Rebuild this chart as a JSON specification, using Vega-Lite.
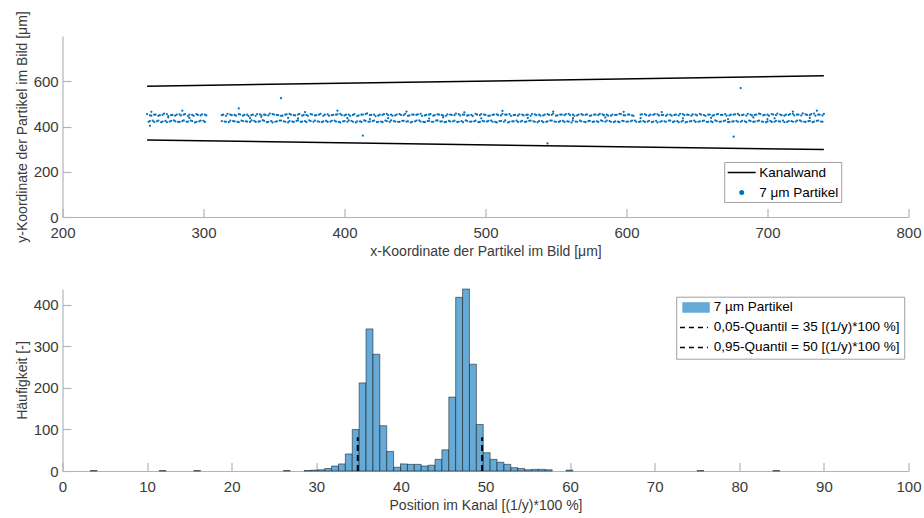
{
"$schema":"https://vega.github.io/schema/vega-lite/v6.json",
"background":"white",
"padding":{"left":14.5,"top":10,"right":5,"bottom":5},
"spacing":30,
"resolve":{"scale":{"color":"independent"},"legend":{"color":"independent"}},
"config":{
"font":"Liberation Sans",
"view":{"stroke":null},
"axis":{"grid":false,"domainColor":"#b4b4b4","domainWidth":1.2,"tickColor":"#b4b4b4","tickWidth":1.2,"tickSize":-8.5,"labelColor":"#3a3a3a","labelFontSize":15,"titleFontSize":14,"titleColor":"#3a3a3a","titleFontWeight":"normal","labelFlush":false,"labelOverlap":false,"titlePadding":4},
"axisX":{"labelPadding":16.5},
"axisY":{"labelPadding":12.8}
},
"vconcat":[
{
"width":846,"height":181,
"layer":[
{"data":{"values":[
{"x":260,"y":578,"wand":"oben"},{"x":740,"y":624,"wand":"oben"},
{"x":260,"y":340,"wand":"unten"},{"x":740,"y":298,"wand":"unten"}]},
"mark":{"type":"line","strokeWidth":1.5},
"encoding":{
"x":{"field":"x","type":"quantitative","scale":{"domain":[200,800],"nice":false},"axis":{"values":[200,300,400,500,600,700,800],"title":"x-Koordinate der Partikel im Bild [μm]"}},
"y":{"field":"y","type":"quantitative","scale":{"domain":[0,800],"nice":false},"axis":{"values":[0,200,400,600],"title":"y-Koordinate der Partikel im Bild [μm]"}},
"detail":{"field":"wand"},
"color":{"datum":"Kanalwand","scale":{"domain":["Kanalwand","7 μm Partikel"],"range":["#000000","#0072BD"]},
"legend":{"orient":"none","legendX":661.7,"legendY":126,"title":null,"labelFontSize":13.5,"labelColor":"#000000","symbolSize":196,"labelOffset":16.5,"rowPadding":5,"padding":2.5,"strokeColor":"#a0a0a0","fillColor":"white",
"encode":{"symbols":{"update":{
"shape":{"signal":"datum.value === 'Kanalwand' ? 'M-1,0H3' : 'M1.25,0A0.25,0.25,0,1,1,0.75,0A0.25,0.25,0,1,1,1.25,0Z'"},
"fill":{"signal":"datum.value === 'Kanalwand' ? 'transparent' : '#0072BD'"},
"stroke":{"signal":"datum.value === 'Kanalwand' ? '#000000' : 'transparent'"},
"strokeWidth":{"value":1.5},"opacity":{"value":1}}}}}}
}},
{"data":{"values":[
{"x":260,"y":455},{"x":263,"y":448},{"x":266,"y":452},{"x":269,"y":450},{"x":272,"y":457},{"x":275,"y":446},{"x":278,"y":451},{"x":281,"y":453},{"x":284,"y":449},{"x":287,"y":455},{"x":290,"y":452},{"x":293,"y":447},{"x":296,"y":451},{"x":299,"y":454},{"x":302,"y":449},
{"x":314,"y":452},{"x":317,"y":456},{"x":320,"y":450},{"x":323,"y":448},{"x":326,"y":453},{"x":329,"y":451},{"x":332,"y":446},{"x":335,"y":452},{"x":338,"y":455},{"x":341,"y":449},{"x":344,"y":451},{"x":347,"y":457},{"x":350,"y":453},{"x":353,"y":450},{"x":356,"y":448},{"x":359,"y":454},{"x":362,"y":452},{"x":365,"y":449},{"x":368,"y":455},{"x":371,"y":451},{"x":374,"y":447},{"x":377,"y":453},{"x":380,"y":450},{"x":383,"y":456},{"x":386,"y":452},{"x":389,"y":448},{"x":392,"y":451},{"x":395,"y":454},{"x":398,"y":450},
{"x":401,"y":452},{"x":404,"y":447},{"x":407,"y":455},{"x":410,"y":449},{"x":413,"y":453},{"x":416,"y":458},{"x":419,"y":451},{"x":422,"y":446},{"x":425,"y":452},{"x":428,"y":455},{"x":431,"y":450},{"x":434,"y":448},{"x":437,"y":453},{"x":440,"y":451},{"x":443,"y":456},{"x":446,"y":449},{"x":449,"y":452},{"x":452,"y":454},{"x":455,"y":447},{"x":458,"y":451},{"x":461,"y":455},{"x":464,"y":450},{"x":467,"y":452},{"x":470,"y":448},{"x":473,"y":454},{"x":476,"y":451},{"x":479,"y":457},{"x":482,"y":449},{"x":485,"y":453},{"x":488,"y":450},{"x":491,"y":446},{"x":494,"y":452},{"x":497,"y":455},
{"x":500,"y":451},{"x":503,"y":448},{"x":506,"y":453},{"x":509,"y":450},{"x":512,"y":456},{"x":515,"y":452},{"x":518,"y":447},{"x":521,"y":451},{"x":524,"y":454},{"x":527,"y":449},{"x":530,"y":452},{"x":533,"y":455},{"x":536,"y":450},{"x":539,"y":448},{"x":542,"y":453},{"x":545,"y":451},{"x":548,"y":457},{"x":551,"y":449},{"x":554,"y":452},{"x":557,"y":455},{"x":560,"y":450},{"x":563,"y":447},{"x":566,"y":453},{"x":569,"y":451},{"x":572,"y":454},{"x":575,"y":449},{"x":578,"y":452},{"x":581,"y":456},{"x":584,"y":450},{"x":587,"y":448},{"x":590,"y":453},{"x":593,"y":451},{"x":596,"y":455},{"x":599,"y":449},
{"x":602,"y":452},{"x":605,"y":447},{"x":611,"y":454},{"x":614,"y":450},{"x":617,"y":452},{"x":620,"y":455},{"x":623,"y":449},{"x":626,"y":451},{"x":629,"y":453},{"x":632,"y":448},{"x":635,"y":452},{"x":638,"y":456},{"x":641,"y":450},{"x":644,"y":451},{"x":647,"y":454},{"x":650,"y":449},{"x":653,"y":452},{"x":656,"y":447},{"x":659,"y":453},{"x":662,"y":450},{"x":665,"y":455},{"x":668,"y":451},{"x":671,"y":448},{"x":674,"y":452},{"x":677,"y":454},{"x":680,"y":450},{"x":683,"y":453},{"x":686,"y":456},{"x":689,"y":449},{"x":692,"y":452},{"x":695,"y":455},{"x":698,"y":451},
{"x":701,"y":448},{"x":704,"y":453},{"x":707,"y":457},{"x":710,"y":450},{"x":713,"y":452},{"x":716,"y":455},{"x":719,"y":449},{"x":722,"y":453},{"x":725,"y":458},{"x":728,"y":451},{"x":731,"y":455},{"x":734,"y":448},{"x":737,"y":453},{"x":740,"y":456},
{"x":262,"y":449},{"x":265,"y":453},{"x":268,"y":447},{"x":271,"y":451},{"x":274,"y":455},{"x":277,"y":450},{"x":280,"y":448},{"x":283,"y":454},{"x":286,"y":452},{"x":289,"y":446},{"x":292,"y":451},{"x":295,"y":455},{"x":298,"y":449},{"x":301,"y":453},
{"x":313,"y":450},{"x":316,"y":447},{"x":319,"y":453},{"x":322,"y":451},{"x":325,"y":455},{"x":328,"y":448},{"x":331,"y":452},{"x":334,"y":450},{"x":337,"y":447},{"x":340,"y":454},{"x":343,"y":452},{"x":346,"y":449},{"x":349,"y":455},{"x":352,"y":451},{"x":355,"y":447},{"x":358,"y":452},{"x":361,"y":456},{"x":364,"y":450},{"x":367,"y":453},{"x":370,"y":448},{"x":373,"y":451},{"x":376,"y":455},{"x":379,"y":449},{"x":382,"y":452},{"x":385,"y":447},{"x":388,"y":454},{"x":391,"y":450},{"x":394,"y":452},{"x":397,"y":456},
{"x":400,"y":449},{"x":403,"y":453},{"x":406,"y":451},{"x":409,"y":446},{"x":412,"y":452},{"x":415,"y":455},{"x":418,"y":450},{"x":421,"y":453},{"x":424,"y":448},{"x":427,"y":451},{"x":430,"y":456},{"x":433,"y":452},{"x":436,"y":449},{"x":439,"y":455},{"x":442,"y":450},{"x":445,"y":447},{"x":448,"y":453},{"x":451,"y":451},{"x":454,"y":456},{"x":457,"y":449},{"x":460,"y":452},{"x":463,"y":448},{"x":466,"y":454},{"x":469,"y":451},{"x":472,"y":447},{"x":475,"y":453},{"x":478,"y":450},{"x":481,"y":455},{"x":484,"y":452},{"x":487,"y":448},{"x":490,"y":451},{"x":493,"y":456},{"x":496,"y":450},{"x":499,"y":453},
{"x":502,"y":447},{"x":505,"y":451},{"x":508,"y":454},{"x":511,"y":449},{"x":514,"y":452},{"x":517,"y":455},{"x":520,"y":450},{"x":523,"y":448},{"x":526,"y":453},{"x":529,"y":451},{"x":532,"y":447},{"x":535,"y":454},{"x":538,"y":452},{"x":541,"y":449},{"x":544,"y":455},{"x":547,"y":451},{"x":550,"y":448},{"x":553,"y":453},{"x":556,"y":450},{"x":559,"y":456},{"x":562,"y":452},{"x":565,"y":449},{"x":568,"y":455},{"x":571,"y":451},{"x":574,"y":447},{"x":577,"y":453},{"x":580,"y":450},{"x":583,"y":454},{"x":586,"y":452},{"x":589,"y":448},{"x":592,"y":451},{"x":595,"y":456},{"x":598,"y":450},
{"x":601,"y":453},{"x":604,"y":449},{"x":610,"y":452},{"x":613,"y":455},{"x":616,"y":448},{"x":619,"y":451},{"x":622,"y":454},{"x":625,"y":450},{"x":628,"y":447},{"x":631,"y":453},{"x":634,"y":451},{"x":637,"y":449},{"x":640,"y":455},{"x":643,"y":452},{"x":646,"y":448},{"x":649,"y":453},{"x":652,"y":456},{"x":655,"y":450},{"x":658,"y":452},{"x":661,"y":448},{"x":664,"y":454},{"x":667,"y":451},{"x":670,"y":455},{"x":673,"y":449},{"x":676,"y":452},{"x":679,"y":456},{"x":682,"y":450},{"x":685,"y":448},{"x":688,"y":453},{"x":691,"y":451},{"x":694,"y":457},{"x":697,"y":449},
{"x":700,"y":452},{"x":703,"y":455},{"x":706,"y":450},{"x":709,"y":453},{"x":712,"y":448},{"x":715,"y":451},{"x":718,"y":456},{"x":721,"y":452},{"x":724,"y":449},{"x":727,"y":454},{"x":730,"y":450},{"x":733,"y":457},{"x":736,"y":452},{"x":739,"y":449},
{"x":261,"y":421},{"x":264,"y":426},{"x":267,"y":423},{"x":270,"y":419},{"x":273,"y":425},{"x":276,"y":422},{"x":279,"y":427},{"x":282,"y":420},{"x":285,"y":424},{"x":288,"y":421},{"x":291,"y":426},{"x":294,"y":418},{"x":297,"y":423},{"x":300,"y":425},
{"x":315,"y":422},{"x":318,"y":419},{"x":321,"y":424},{"x":324,"y":421},{"x":327,"y":426},{"x":330,"y":423},{"x":333,"y":420},{"x":336,"y":425},{"x":339,"y":422},{"x":342,"y":428},{"x":345,"y":419},{"x":348,"y":424},{"x":351,"y":421},{"x":354,"y":426},{"x":357,"y":423},{"x":360,"y":418},{"x":363,"y":422},{"x":366,"y":425},{"x":369,"y":420},{"x":372,"y":424},{"x":375,"y":427},{"x":378,"y":421},{"x":381,"y":423},{"x":384,"y":419},{"x":387,"y":425},{"x":390,"y":422},{"x":393,"y":426},{"x":396,"y":420},{"x":399,"y":423},
{"x":402,"y":421},{"x":405,"y":425},{"x":408,"y":418},{"x":411,"y":423},{"x":414,"y":427},{"x":417,"y":421},{"x":420,"y":424},{"x":423,"y":419},{"x":426,"y":422},{"x":429,"y":426},{"x":432,"y":420},{"x":435,"y":424},{"x":438,"y":421},{"x":441,"y":425},{"x":444,"y":422},{"x":447,"y":418},{"x":450,"y":423},{"x":453,"y":427},{"x":456,"y":420},{"x":459,"y":424},{"x":462,"y":421},{"x":465,"y":426},{"x":468,"y":422},{"x":471,"y":419},{"x":474,"y":425},{"x":477,"y":423},{"x":480,"y":420},{"x":483,"y":424},{"x":486,"y":427},{"x":489,"y":421},{"x":492,"y":423},{"x":495,"y":419},{"x":498,"y":425},
{"x":501,"y":422},{"x":504,"y":426},{"x":507,"y":420},{"x":510,"y":424},{"x":513,"y":421},{"x":516,"y":418},{"x":519,"y":423},{"x":522,"y":426},{"x":525,"y":422},{"x":528,"y":420},{"x":531,"y":425},{"x":534,"y":423},{"x":537,"y":419},{"x":540,"y":424},{"x":543,"y":421},{"x":546,"y":426},{"x":549,"y":422},{"x":552,"y":420},{"x":555,"y":425},{"x":558,"y":423},{"x":561,"y":418},{"x":564,"y":422},{"x":567,"y":426},{"x":570,"y":421},{"x":573,"y":424},{"x":576,"y":420},{"x":579,"y":423},{"x":582,"y":427},{"x":585,"y":421},{"x":588,"y":424},{"x":591,"y":419},{"x":594,"y":422},{"x":597,"y":425},
{"x":600,"y":421},{"x":603,"y":423},{"x":606,"y":426},{"x":609,"y":420},{"x":612,"y":424},{"x":615,"y":422},{"x":618,"y":419},{"x":621,"y":425},{"x":624,"y":421},{"x":627,"y":423},{"x":630,"y":426},{"x":633,"y":420},{"x":636,"y":424},{"x":639,"y":422},{"x":642,"y":418},{"x":645,"y":423},{"x":648,"y":426},{"x":651,"y":421},{"x":654,"y":424},{"x":657,"y":420},{"x":660,"y":423},{"x":663,"y":427},{"x":666,"y":421},{"x":669,"y":424},{"x":672,"y":419},{"x":675,"y":422},{"x":678,"y":425},{"x":681,"y":421},{"x":684,"y":423},{"x":687,"y":426},{"x":690,"y":420},{"x":693,"y":424},{"x":696,"y":422},{"x":699,"y":419},
{"x":702,"y":425},{"x":705,"y":421},{"x":708,"y":423},{"x":711,"y":426},{"x":714,"y":420},{"x":717,"y":424},{"x":720,"y":422},{"x":723,"y":427},{"x":726,"y":421},{"x":729,"y":424},{"x":732,"y":419},{"x":735,"y":425},{"x":738,"y":422},
{"x":262,"y":424},{"x":265,"y":420},{"x":268,"y":426},{"x":271,"y":422},{"x":274,"y":419},{"x":277,"y":425},{"x":280,"y":423},{"x":283,"y":420},{"x":286,"y":427},{"x":289,"y":422},{"x":292,"y":424},{"x":295,"y":421},{"x":298,"y":426},{"x":301,"y":420},
{"x":313,"y":424},{"x":316,"y":421},{"x":319,"y":426},{"x":322,"y":423},{"x":325,"y":419},{"x":328,"y":424},{"x":331,"y":422},{"x":334,"y":427},{"x":337,"y":420},{"x":340,"y":423},{"x":343,"y":425},{"x":346,"y":421},{"x":349,"y":418},{"x":352,"y":423},{"x":355,"y":426},{"x":358,"y":421},{"x":361,"y":424},{"x":364,"y":420},{"x":367,"y":427},{"x":370,"y":422},{"x":373,"y":419},{"x":376,"y":424},{"x":379,"y":426},{"x":382,"y":421},{"x":385,"y":423},{"x":388,"y":420},{"x":391,"y":425},{"x":394,"y":422},{"x":397,"y":418},
{"x":400,"y":424},{"x":403,"y":427},{"x":406,"y":421},{"x":409,"y":423},{"x":412,"y":420},{"x":415,"y":425},{"x":418,"y":422},{"x":421,"y":426},{"x":424,"y":421},{"x":427,"y":419},{"x":430,"y":424},{"x":433,"y":427},{"x":436,"y":422},{"x":439,"y":420},{"x":442,"y":425},{"x":445,"y":423},{"x":448,"y":421},{"x":451,"y":426},{"x":454,"y":422},{"x":457,"y":419},{"x":460,"y":424},{"x":463,"y":421},{"x":466,"y":427},{"x":469,"y":423},{"x":472,"y":420},{"x":475,"y":422},{"x":478,"y":426},{"x":481,"y":421},{"x":484,"y":419},{"x":487,"y":424},{"x":490,"y":422},{"x":493,"y":426},{"x":496,"y":420},{"x":499,"y":423},
{"x":502,"y":425},{"x":505,"y":421},{"x":508,"y":418},{"x":511,"y":424},{"x":514,"y":427},{"x":517,"y":421},{"x":520,"y":423},{"x":523,"y":420},{"x":526,"y":425},{"x":529,"y":422},{"x":532,"y":426},{"x":535,"y":421},{"x":538,"y":424},{"x":541,"y":419},{"x":544,"y":423},{"x":547,"y":426},{"x":550,"y":421},{"x":553,"y":424},{"x":556,"y":420},{"x":559,"y":422},{"x":562,"y":427},{"x":565,"y":421},{"x":568,"y":423},{"x":571,"y":419},{"x":574,"y":425},{"x":577,"y":422},{"x":580,"y":420},{"x":583,"y":424},{"x":586,"y":426},{"x":589,"y":421},{"x":592,"y":423},{"x":595,"y":419},{"x":598,"y":424},
{"x":601,"y":422},{"x":604,"y":426},{"x":607,"y":421},{"x":610,"y":423},{"x":613,"y":420},{"x":616,"y":425},{"x":619,"y":422},{"x":622,"y":418},{"x":625,"y":424},{"x":628,"y":421},{"x":631,"y":426},{"x":634,"y":423},{"x":637,"y":419},{"x":640,"y":425},{"x":643,"y":421},{"x":646,"y":424},{"x":649,"y":420},{"x":652,"y":423},{"x":655,"y":426},{"x":658,"y":421},{"x":661,"y":419},{"x":664,"y":424},{"x":667,"y":422},{"x":670,"y":426},{"x":673,"y":420},{"x":676,"y":423},{"x":679,"y":421},{"x":682,"y":425},{"x":685,"y":419},{"x":688,"y":424},{"x":691,"y":422},{"x":694,"y":426},{"x":697,"y":421},
{"x":700,"y":423},{"x":703,"y":420},{"x":706,"y":425},{"x":709,"y":422},{"x":712,"y":419},{"x":715,"y":424},{"x":718,"y":421},{"x":721,"y":426},{"x":724,"y":423},{"x":727,"y":420},{"x":730,"y":424},{"x":733,"y":422},{"x":736,"y":426},{"x":739,"y":421},
{"x":263,"y":465},{"x":262,"y":403},{"x":275,"y":440},{"x":285,"y":470},{"x":290,"y":438},{"x":325,"y":480},{"x":333,"y":437},{"x":341,"y":442},{"x":355,"y":525},{"x":360,"y":438},{"x":367,"y":436},{"x":372,"y":464},{"x":395,"y":470},{"x":402,"y":437},{"x":413,"y":360},{"x":418,"y":433},{"x":431,"y":437},{"x":444,"y":466},{"x":460,"y":435},{"x":470,"y":440},{"x":485,"y":463},{"x":497,"y":436},{"x":512,"y":469},{"x":530,"y":438},{"x":544,"y":325},{"x":548,"y":466},{"x":562,"y":437},{"x":585,"y":440},{"x":598,"y":465},{"x":610,"y":437},{"x":625,"y":464},{"x":640,"y":436},{"x":660,"y":438},{"x":676,"y":355},{"x":681,"y":570},{"x":690,"y":440},{"x":705,"y":436},{"x":718,"y":466},{"x":730,"y":438},{"x":735,"y":470},{"x":672,"y":433},{"x":700,"y":433}
]},
"mark":{"type":"point","filled":true,"size":5,"opacity":1},
"encoding":{
"x":{"field":"x","type":"quantitative"},
"y":{"field":"y","type":"quantitative"},
"color":{"datum":"7 μm Partikel"}
}}
]
},
{
"width":846,"height":182,
"layer":[
{"data":{"values":[
{"x0":3.28,"x1":4.095,"n":1},{"x0":11.43,"x1":12.245,"n":1},{"x0":15.505,"x1":16.32,"n":1},{"x0":26.1,"x1":26.915,"n":1},{"x0":28.545,"x1":29.36,"n":1},{"x0":29.36,"x1":30.175,"n":2},{"x0":30.175,"x1":30.99,"n":3},{"x0":30.99,"x1":31.805,"n":6},{"x0":31.805,"x1":32.62,"n":12},{"x0":32.62,"x1":33.435,"n":17},{"x0":33.435,"x1":34.25,"n":41},{"x0":34.25,"x1":35.065,"n":100},{"x0":35.065,"x1":35.88,"n":212},{"x0":35.88,"x1":36.695,"n":342},{"x0":36.695,"x1":37.51,"n":281},{"x0":37.51,"x1":38.325,"n":109},{"x0":38.325,"x1":39.14,"n":47},{"x0":39.14,"x1":39.955,"n":9},{"x0":39.955,"x1":40.77,"n":17},{"x0":40.77,"x1":41.585,"n":16},{"x0":41.585,"x1":42.4,"n":16},{"x0":42.4,"x1":43.215,"n":12},{"x0":43.215,"x1":44.03,"n":14},{"x0":44.03,"x1":44.845,"n":28},{"x0":44.845,"x1":45.66,"n":51},{"x0":45.66,"x1":46.475,"n":178},{"x0":46.475,"x1":47.29,"n":418},{"x0":47.29,"x1":48.105,"n":438},{"x0":48.105,"x1":48.92,"n":257},{"x0":48.92,"x1":49.735,"n":112},{"x0":49.735,"x1":50.55,"n":44},{"x0":50.55,"x1":51.365,"n":28},{"x0":51.365,"x1":52.18,"n":21},{"x0":52.18,"x1":52.995,"n":16},{"x0":52.995,"x1":53.81,"n":8},{"x0":53.81,"x1":54.625,"n":6},{"x0":54.625,"x1":55.44,"n":3},{"x0":55.44,"x1":56.255,"n":4},{"x0":56.255,"x1":57.07,"n":4},{"x0":57.07,"x1":57.885,"n":3},{"x0":59.515,"x1":60.33,"n":2},{"x0":75.0,"x1":75.815,"n":1},{"x0":83.965,"x1":84.78,"n":1}
]},
"mark":{"type":"bar","stroke":"#000000","strokeOpacity":0.6,"strokeWidth":0.8},
"encoding":{
"x":{"field":"x0","type":"quantitative","scale":{"domain":[0,100],"nice":false},"axis":{"values":[0,10,20,30,40,50,60,70,80,90,100],"title":"Position im Kanal [(1/y)*100 %]"}},
"x2":{"field":"x1"},
"y":{"field":"n","type":"quantitative","scale":{"domain":[0,438],"nice":false},"axis":{"values":[0,100,200,300,400],"title":"Häufigkeit [-]"}},
"y2":{"datum":0},
"color":{"datum":"7 µm Partikel","scale":{"domain":["7 µm Partikel","0,05-Quantil = 35 [(1/y)*100 %]","0,95-Quantil = 50 [(1/y)*100 %]"],"range":["#66AAD7","#000000","#000000"]},
"legend":{"orient":"none","legendX":613.7,"legendY":7.7,"title":null,"symbolType":"stroke","labelFontSize":13.5,"labelColor":"#000000","labelLimit":400,"symbolSize":196,"labelOffset":20,"rowPadding":5,"padding":4,"strokeColor":"#a0a0a0","fillColor":"white",
"encode":{"symbols":{"update":{
"shape":{"signal":"datum.index === 0 ? 'M-0.6,-0.7H3.2V0.7H-0.6Z' : 'M-1,0H3'"},
"fill":{"signal":"datum.index === 0 ? '#66AAD7' : 'transparent'"},
"stroke":{"signal":"datum.index === 0 ? '#333333' : '#000000'"},
"strokeWidth":{"signal":"datum.index === 0 ? 0.8 : 1.6"},
"strokeDash":{"signal":"datum.index === 0 ? [1,0] : [5,4]"},
"opacity":{"value":1}}}}}}
}},
{"data":{"values":[{"x":34.9,"y0":0,"y1":81}]},
"mark":{"type":"rule","strokeWidth":2,"strokeDash":[6,4]},
"encoding":{
"x":{"field":"x","type":"quantitative"},
"y":{"field":"y0","type":"quantitative"},
"y2":{"field":"y1"},
"color":{"datum":"0,05-Quantil = 35 [(1/y)*100 %]",
"legend":{"orient":"none","legendX":613.7,"legendY":7.7,"title":null,"symbolType":"stroke","labelFontSize":13.5,"labelColor":"#000000","labelLimit":400,"symbolSize":196,"labelOffset":20,"rowPadding":5,"padding":4,"strokeColor":"#a0a0a0","fillColor":"white",
"encode":{"symbols":{"update":{
"shape":{"signal":"datum.index === 0 ? 'M-0.6,-0.7H3.2V0.7H-0.6Z' : 'M-1,0H3'"},
"fill":{"signal":"datum.index === 0 ? '#66AAD7' : 'transparent'"},
"stroke":{"signal":"datum.index === 0 ? '#333333' : '#000000'"},
"strokeWidth":{"signal":"datum.index === 0 ? 0.8 : 1.6"},
"strokeDash":{"signal":"datum.index === 0 ? [1,0] : [5,4]"},
"opacity":{"value":1}}}}}}
}},
{"data":{"values":[{"x":49.6,"y0":0,"y1":81}]},
"mark":{"type":"rule","strokeWidth":2,"strokeDash":[6,4]},
"encoding":{
"x":{"field":"x","type":"quantitative"},
"y":{"field":"y0","type":"quantitative"},
"y2":{"field":"y1"},
"color":{"datum":"0,95-Quantil = 50 [(1/y)*100 %]",
"legend":{"orient":"none","legendX":613.7,"legendY":7.7,"title":null,"symbolType":"stroke","labelFontSize":13.5,"labelColor":"#000000","labelLimit":400,"symbolSize":196,"labelOffset":20,"rowPadding":5,"padding":4,"strokeColor":"#a0a0a0","fillColor":"white",
"encode":{"symbols":{"update":{
"shape":{"signal":"datum.index === 0 ? 'M-0.6,-0.7H3.2V0.7H-0.6Z' : 'M-1,0H3'"},
"fill":{"signal":"datum.index === 0 ? '#66AAD7' : 'transparent'"},
"stroke":{"signal":"datum.index === 0 ? '#333333' : '#000000'"},
"strokeWidth":{"signal":"datum.index === 0 ? 0.8 : 1.6"},
"strokeDash":{"signal":"datum.index === 0 ? [1,0] : [5,4]"},
"opacity":{"value":1}}}}}}
}}
]
}
]
}
